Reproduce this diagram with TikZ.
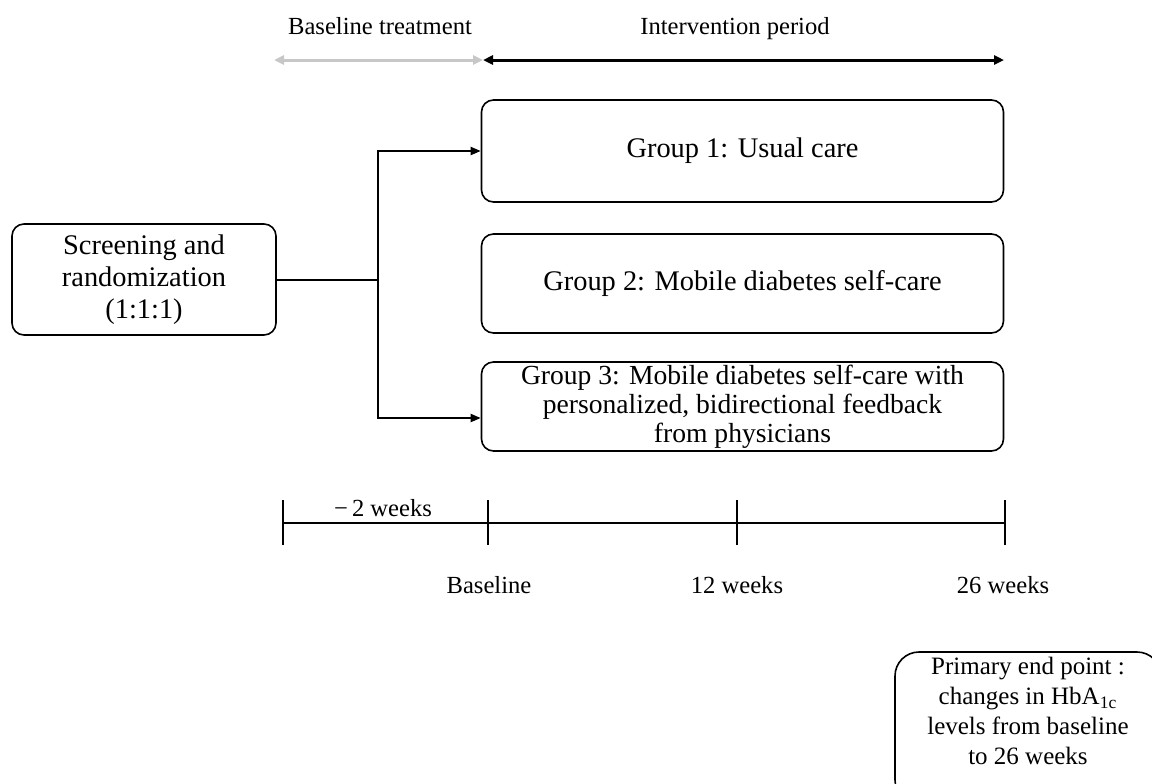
\documentclass[tikz,border=0pt]{standalone}
\usepackage{fontspec}
\setmainfont{Liberation Serif}
\usetikzlibrary{arrows.meta}

\begin{document}
\begin{tikzpicture}
[x=0.5pt,y=-0.5pt,
  boxDecorate/.style={draw,thick,rounded corners=6pt,align=center,inner xsep=2pt,inner ysep=0pt,
    font=\fontsize{14.2}{16}\selectfont},
  lineDecorate/.style={-,line width=1pt},
  arrowDecorate/.style={-{Triangle[length=5pt,width=4pt]},line width=1pt},
  periodDecorate/.style={{Triangle[length=5pt,width=4.5pt]}-{Triangle[length=5pt,width=4.5pt]},line width=1.5pt},
  labelDecorate/.style={font=\fontsize{12.3}{14}\selectfont}]
\useasboundingbox (0,0) rectangle (1152,783);
\clip (0,0) rectangle (1152,783);
%% periods on top
\node[labelDecorate,anchor=base] (basetreat) at (380,34) {Baseline treatment};
\node[labelDecorate,anchor=base] (interv) at (735,34) {Intervention period};
\coordinate (pa) at (274,60);
\coordinate (pb) at (483,60);
\coordinate (pc) at (1004,60);
\draw[periodDecorate,black!22] (pa) -- (pb);
\draw[periodDecorate] (pb) -- (pc);
%% boxes
\node[boxDecorate,minimum width=132pt,minimum height=55.5pt] (screen) at (144,279.5)
  {Screening and\\randomization\\(1:1:1)};
\node[boxDecorate,minimum width=261pt,minimum height=51pt] (grpone) at (742.5,151)
  {Group 1: Usual care};
\node[boxDecorate,minimum width=261pt,minimum height=49.5pt] (grptwo) at (742.5,283.5)
  {Group 2: Mobile diabetes self-care};
\node[boxDecorate,minimum width=261pt,minimum height=44.5pt,
  font=\fontsize{13.8}{14.4}\selectfont] (grpthree) at (742.5,406.5)
  {Group 3: Mobile diabetes self-care with\\personalized, bidirectional feedback\\from physicians};
%% randomization lines
\draw[lineDecorate] (screen.east) -- ++(101,0) coordinate (split);
\draw[arrowDecorate] (split) |- (grpone.west);
\draw[arrowDecorate] (split) |- ([yshift=-5.75pt]grpthree.west);
%% timeline
\foreach \tickname/\x in {tm/283, tb/488, tt/737, te/1005} {
  \coordinate (\tickname) at (\x,523);
  \draw[lineDecorate] (\tickname) ++(0,-23) -- ++(0,45);
}
\draw[lineDecorate] (tm) -- (te);
\node[labelDecorate] (minustwo) at (383,508) {−\,2 weeks};
\foreach \labname/\x/\txt in {lbase/489/Baseline, ltwelve/737/12 weeks, lsix/1003/26 weeks} {
  \node[labelDecorate] (\labname) at (\x,585) {\txt};
}
%% end point
\node[draw,thick,rounded corners=12pt,minimum width=133pt,minimum height=76pt] (endpt) at (1028,728) {};
\node[align=center,font=\fontsize{12.5}{15}\selectfont] (endtxt) at (1028,711)
  {Primary end point :\\changes in HbA$_{\mathrm{1c}}$\\levels from baseline\\to 26 weeks};
\end{tikzpicture}
\end{document}
